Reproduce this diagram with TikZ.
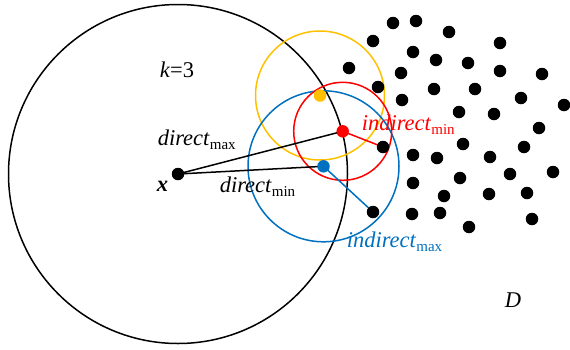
\documentclass[tikz,border=0pt]{standalone}
\usepackage{fontspec}
\setmainfont{Liberation Serif}
\definecolor{kgold}{HTML}{FFC000}
\definecolor{kblue}{HTML}{0070C0}
\definecolor{kred}{HTML}{FF0000}
\newcommand{\sublab}[2]{\textit{#1}\raisebox{-4pt}{\fontsize{15}{15}\selectfont #2}}
\tikzset{
  pt/.style={circle, fill=#1, inner sep=0pt, minimum size=12.5pt},
  pt/.default=black,
  lbl/.style={anchor=base west, inner sep=0pt, font=\fontsize{22.5}{26}\selectfont},
}
\begin{document}
\begin{tikzpicture}[x=1pt, y=-1pt, line width=1.5pt]
  \useasboundingbox (0,0) rectangle (570,349);

  % centres
  \coordinate (x) at (178,174);
  \coordinate (cgold) at (320,95.5);
  \coordinate (cmin) at (342.7,131.3);
  \coordinate (cmax) at (323.5,166.3);
  \coordinate (pmin) at (383,147);
  \coordinate (pmax) at (373,212);

  % circles
  \draw (x) circle[radius=169.5];
  \draw[kgold] (cgold) circle[radius=64.5];
  \draw[kblue] (cmax) circle[radius=75.5];
  \draw[kred] (cmin) circle[radius=49];

  % distances
  \draw (x) -- (cmin);
  \draw (x) -- (cmax);
  \draw[kred] (cmin) -- (pmin);
  \draw[kblue] (cmax) -- (pmax);

  % data points
  \foreach \px/\py in {393/23, 416/21, 449/32, 373/41, 413/52, 500/43,
      349/68, 401/73, 436/60, 468/63, 500/71, 542/74, 378/87, 402/100,
      434/89, 475/89, 521/98, 564/105, 459/112, 494/114, 539/128,
      413/155, 437/158, 463/144, 490/157, 524/147, 413/183, 460/178,
      510/174, 553/172, 444/196, 489/194, 527/193, 412/214, 440/213,
      469/227, 532/219}
    \node[pt] at (\px,\py) {};
  \node[pt] (xdot) at (x) {};
  \node[pt] (dmin) at (pmin) {};
  \node[pt] (dmax) at (pmax) {};
  \node[pt=kgold] (gdot) at (cgold) {};
  \node[pt=kred] (rdot) at (cmin) {};
  \node[pt=kblue] (bdot) at (cmax) {};

  % labels
  \node[lbl] (k) at (159,77) {\textit{k}=3};
  \node[lbl] (xl) at (156,191) {\textbf{\textit{x}}};
  \node[lbl] (dmaxl) at (157,145) {\sublab{direct}{max}};
  \node[lbl] (dminl) at (219,192) {\sublab{direct}{min}};
  \node[lbl, text=kred] (imin) at (361,130) {\sublab{indirect}{min}};
  \node[lbl, text=kblue] (imax) at (346,247) {\sublab{indirect}{max}};
  \node[lbl] (dl) at (504,307) {\textit{D}};
\end{tikzpicture}
\end{document}
